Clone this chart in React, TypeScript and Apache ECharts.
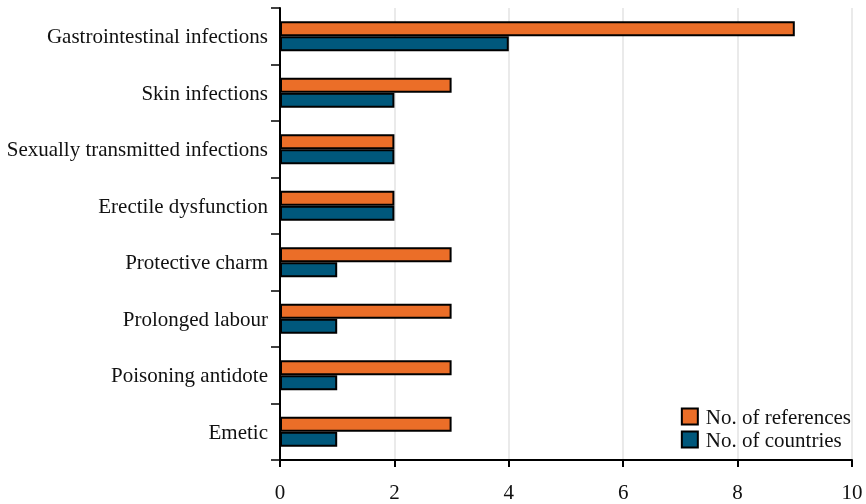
import React, { useEffect, useRef } from "react";
import * as echarts from "echarts";

const categories = [
  "Gastrointestinal infections",
  "Skin infections",
  "Sexually transmitted infections",
  "Erectile dysfunction",
  "Protective charm",
  "Prolonged labour",
  "Poisoning antidote",
  "Emetic",
];
const references = [9, 3, 2, 2, 3, 3, 3, 3];
const countries = [4, 2, 2, 2, 1, 1, 1, 1];
const xTicks = [0, 2, 4, 6, 8, 10];

export default function App() {
  const ref = useRef<HTMLDivElement>(null);
  useEffect(() => {
    const chart = echarts.init(ref.current!, null, { renderer: "svg" });
    const font = "Liberation Serif";
    chart.setOption({
      animation: false,
      textStyle: { fontFamily: font },
      grid: { left: 280, right: 14, top: 8, bottom: 44, containLabel: false },
      legend: {
        orient: "vertical",
        right: 10,
        bottom: 49,
        icon: "rect",
        itemWidth: 16,
        itemHeight: 16,
        itemGap: 2,
        textStyle: { fontFamily: font, fontSize: 21, color: "#111", padding: [0, 0, 0, 3] },
        data: ["No. of references", "No. of countries"],
      },
      xAxis: {
        type: "value",
        min: xTicks[0],
        max: xTicks[xTicks.length - 1],
        interval: 2,
        axisLine: { show: true, lineStyle: { color: "#000", width: 2 } },
        axisTick: { show: true, length: 7, lineStyle: { color: "#000", width: 2 } },
        axisLabel: { fontFamily: font, fontSize: 21, color: "#111", margin: 21 },
        splitLine: { show: true, lineStyle: { color: "#e3e3e3", width: 1.5 } },
      },
      yAxis: {
        type: "category",
        data: categories,
        inverse: true,
        axisLine: { show: true, lineStyle: { color: "#000", width: 2 } },
        axisTick: { show: true, length: 9, lineStyle: { color: "#000", width: 1.5 } },
        axisLabel: { fontFamily: font, fontSize: 21, color: "#111", margin: 12 },
        splitLine: { show: false },
      },
      series: [
        {
          name: "No. of references",
          type: "bar",
          data: references,
          barWidth: 15,
          barGap: "0%",
          itemStyle: { color: "#EB6E28", borderColor: "#000", borderWidth: 2 },
        },
        {
          name: "No. of countries",
          type: "bar",
          data: countries,
          barWidth: 15,
          barGap: "0%",
          itemStyle: { color: "#00587C", borderColor: "#000", borderWidth: 2 },
        },
      ],
    });
    return () => chart.dispose();
  }, []);
  return (
    <div
      ref={ref}
      style={{ position: "fixed", left: 0, top: 0, width: 866, height: 504 }}
    />
  );
}
